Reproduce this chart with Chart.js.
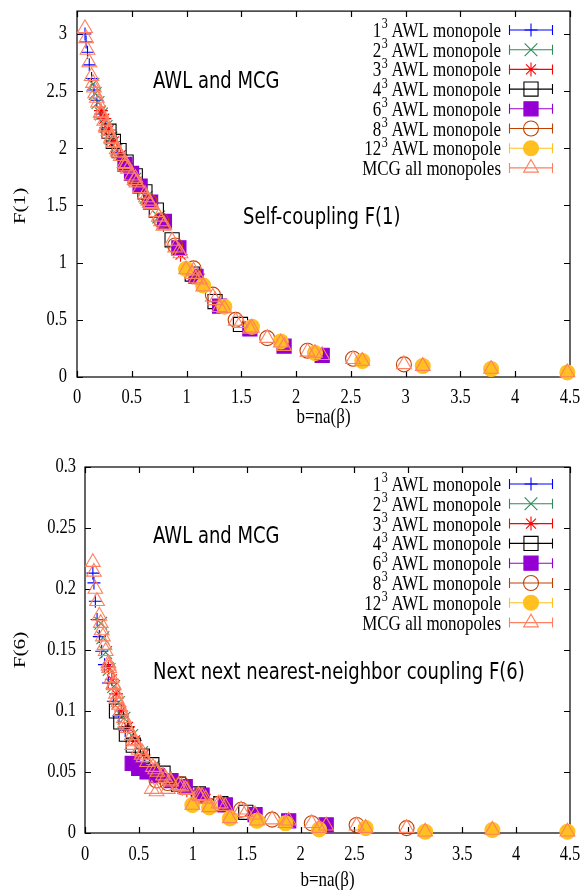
<!DOCTYPE html>
<html>
<head>
<meta charset="utf-8">
<script src="https://cdn.jsdelivr.net/npm/chart.js@4.4.1/dist/chart.umd.min.js"></script>
<style>
  html, body { margin: 0; padding: 0; background: #fff; }
  #wrap { position: relative; width: 586px; height: 890px; }
  canvas { position: absolute; left: 0; }
  #c1 { top: 0; width: 586px; height: 440px; }
  #c2 { top: 440px; width: 586px; height: 450px; }
</style>
</head>
<body>
<div id="wrap">
  <canvas id="c1" width="586" height="440"></canvas>
  <canvas id="c2" width="586" height="450"></canvas>
</div>
<script>
// b = n * a(beta) for each lattice size n^3
const b1 = [0.073, 0.083, 0.096, 0.112, 0.133, 0.155, 0.181, 0.217, 0.263, 0.315, 0.373];
const f1_n1 = [3.00, 2.93, 2.84, 2.73, 2.61, 2.51, 2.42, 2.30, 2.18, 2.07, 1.96];
const f6_n1 = [0.213, 0.205, 0.190, 0.175, 0.161, 0.149, 0.138, 0.123, 0.108, 0.096, 0.084];

const b2 = [0.146, 0.166, 0.192, 0.224, 0.266, 0.310, 0.362, 0.434, 0.526, 0.630, 0.746];
const f1_n2 = [2.56, 2.48, 2.40, 2.30, 2.19, 2.09, 1.99, 1.87, 1.73, 1.57, 1.40];
const f6_n2 = [0.172, 0.160, 0.148, 0.134, 0.120, 0.107, 0.094, 0.080, 0.066, 0.054, 0.045];

const b3 = [0.219, 0.249, 0.288, 0.336, 0.399, 0.465, 0.543, 0.651, 0.789, 0.945, 1.119];
const f1_n3 = [2.33, 2.26, 2.16, 2.06, 1.94, 1.83, 1.71, 1.55, 1.33, 1.07, 0.86];
const f6_n3 = [0.136, 0.126, 0.114, 0.100, 0.087, 0.076, 0.064, 0.053, 0.043, 0.035, 0.028];

const b4 = [0.292, 0.332, 0.384, 0.448, 0.532, 0.620, 0.724, 0.868, 1.052, 1.260, 1.492];
const f1_n4 = [2.15, 2.06, 1.98, 1.88, 1.76, 1.62, 1.46, 1.20, 0.90, 0.66, 0.46];
const f6_n4 = [0.100, 0.091, 0.081, 0.072, 0.063, 0.056, 0.049, 0.040, 0.032, 0.024, 0.017];

const b6 = [0.438, 0.498, 0.576, 0.672, 0.798, 0.930, 1.086, 1.302, 1.578, 1.890, 2.238];
const f1_n6 = [1.86, 1.78, 1.67, 1.53, 1.36, 1.13, 0.88, 0.62, 0.42, 0.27, 0.19];
const f6_n6 = [0.057, 0.053, 0.050, 0.047, 0.043, 0.038, 0.031, 0.023, 0.015, 0.010, 0.0066];

const b8 = [0.664, 0.768, 0.896, 1.064, 1.240, 1.448, 1.736, 2.104, 2.520, 2.984];
const f1_n8 = [1.53, 1.37, 1.15, 0.95, 0.72, 0.50, 0.34, 0.23, 0.16, 0.11];
const f6_n8 = [0.043, 0.041, 0.040, 0.031, 0.024, 0.019, 0.011, 0.008, 0.0066, 0.004];

const b12 = [0.996, 1.152, 1.344, 1.596, 1.860, 2.172, 2.604, 3.156, 3.780, 4.476];
const f1_n12 = [0.945, 0.80, 0.615, 0.44, 0.31, 0.21, 0.14, 0.096, 0.07, 0.04];
const f6_n12 = [0.023, 0.021, 0.012, 0.010, 0.008, 0.003, 0.004, 0.001, 0.0025, 0.001];

// MCG, all monopoles together
const bMcg = [
  0.073, 0.083, 0.096, 0.112, 0.133,
  0.146, 0.155, 0.166, 0.181, 0.192,
  0.217, 0.219, 0.224, 0.249, 0.263,
  0.266, 0.288, 0.292, 0.310, 0.315,
  0.332, 0.336, 0.362, 0.373, 0.384,
  0.399, 0.434, 0.438, 0.448, 0.465,
  0.498, 0.526, 0.532, 0.543, 0.576,
  0.620, 0.630, 0.651, 0.664, 0.672,
  0.724, 0.746, 0.768, 0.789, 0.798,
  0.868, 0.896, 0.930, 0.945, 0.996,
  1.052, 1.064, 1.086, 1.119, 1.152,
  1.240, 1.260, 1.302, 1.344, 1.448,
  1.492, 1.578, 1.596, 1.736, 1.860,
  1.890, 2.104, 2.172, 2.238, 2.520,
  2.604, 2.984, 3.156, 3.780, 4.476
];
const f1Mcg = [
  3.05, 2.96, 2.86, 2.75, 2.63,
  2.57, 2.53, 2.48, 2.44, 2.40,
  2.31, 2.31, 2.29, 2.24, 2.19,
  2.18, 2.15, 2.13, 2.09, 2.08,
  2.05, 2.05, 1.99, 1.97, 1.96,
  1.93, 1.87, 1.84, 1.86, 1.82,
  1.76, 1.72, 1.74, 1.70, 1.65,
  1.60, 1.57, 1.54, 1.52, 1.51,
  1.44, 1.40, 1.36, 1.32, 1.33,
  1.19, 1.13, 1.10, 1.08, 0.94,
  0.90, 0.93, 0.86, 0.85, 0.79,
  0.70, 0.67, 0.61, 0.60, 0.49,
  0.47, 0.42, 0.43, 0.34, 0.30,
  0.27, 0.22, 0.21, 0.19, 0.155,
  0.14, 0.11, 0.095, 0.07, 0.04
];
const f6Mcg = [
  0.222, 0.214, 0.200, 0.190, 0.178,
  0.172, 0.166, 0.161, 0.154, 0.149,
  0.139, 0.137, 0.135, 0.127, 0.122,
  0.121, 0.114, 0.110, 0.107, 0.105,
  0.100, 0.100, 0.094, 0.090, 0.088,
  0.086, 0.080, 0.072, 0.076, 0.075,
  0.068, 0.064, 0.066, 0.062, 0.058,
  0.036, 0.054, 0.052, 0.034, 0.050,
  0.047, 0.045, 0.036, 0.043, 0.042,
  0.039, 0.038, 0.036, 0.035, 0.023,
  0.031, 0.030, 0.030, 0.028, 0.021,
  0.024, 0.024, 0.022, 0.012, 0.019,
  0.017, 0.015, 0.010, 0.011, 0.008,
  0.010, 0.008, 0.004, 0.006, 0.006,
  0.004, 0.004, 0.001, 0.0025, 0.001
];

// legend entries: [base, superscript, rest]
const seriesLabels = [
  ['1', '3', ' AWL monopole'],
  ['2', '3', ' AWL monopole'],
  ['3', '3', ' AWL monopole'],
  ['4', '3', ' AWL monopole'],
  ['6', '3', ' AWL monopole'],
  ['8', '3', ' AWL monopole'],
  ['12', '3', ' AWL monopole'],
  ['MCG all monopoles', '', '']
];

const xTicks = [0, 0.5, 1, 1.5, 2, 2.5, 3, 3.5, 4, 4.5];
const xTickLabels = ['0', '0.5', '1', '1.5', '2', '2.5', '3', '3.5', '4', '4.5'];
const yTicksF1 = [0, 0.5, 1, 1.5, 2, 2.5, 3];
const yTickLabelsF1 = ['0', '0.5', '1', '1.5', '2', '2.5', '3'];
const yTicksF6 = [0, 0.05, 0.1, 0.15, 0.2, 0.25, 0.3];
const yTickLabelsF6 = ['0', '0.05', '0.1', '0.15', '0.2', '0.25', '0.3'];

// marker look per series
const markerStyles = [
  { color: '#0000ff', fill: false, pointStyle: 'cross', radius: 6.5 },
  { color: '#2e8b57', fill: false, pointStyle: 'crossRot', radius: 9 },
  { color: '#ff0000', fill: false, pointStyle: 'star', radius: 7 },
  { color: '#000000', fill: false, pointStyle: 'rect', radius: 10 },
  { color: '#9400d3', fill: true, pointStyle: 'rect', radius: 10 },
  { color: '#c04000', fill: false, pointStyle: 'circle', radius: 7.5 },
  { color: '#ffc020', fill: true, pointStyle: 'circle', radius: 7.5 },
  { color: '#ff8060', fill: false, pointStyle: 'triangle', radius: 8.5 }
];

const SERIF = '"Liberation Serif", "Times New Roman", serif';
const SANS = '"DejaVu Sans", sans-serif';
const STRETCH = 1.25; // text in this figure is drawn tall and narrow

function toPoints(xs, ys) {
  return xs.map((x, i) => ({ x: x, y: ys[i] }));
}

function buildDatasets(seriesY) {
  return seriesY.map((s, i) => {
    const m = markerStyles[i];
    return {
      label: seriesLabels[i].join(''),
      data: toPoints(s[0], s[1]),
      showLine: false,
      pointStyle: m.pointStyle,
      pointRadius: m.radius,
      pointBorderWidth: 1.1,
      pointBorderColor: m.color,
      pointBackgroundColor: m.fill ? m.color : 'rgba(0,0,0,0)',
      clip: false,
      order: seriesY.length - i
    };
  });
}

function drawText(ctx, text, x, y, font, align, angle) {
  ctx.save();
  ctx.translate(x, y);
  ctx.scale(1, STRETCH);
  if (angle) ctx.rotate(angle);
  ctx.font = font;
  ctx.textAlign = align;
  ctx.textBaseline = 'middle';
  ctx.fillStyle = '#000';
  ctx.fillText(text, 0, 0);
  ctx.restore();
}

function drawMarker(ctx, m, x, y) {
  ctx.save();
  ctx.strokeStyle = m.color;
  ctx.fillStyle = m.fill ? m.color : 'rgba(0,0,0,0)';
  ctx.lineWidth = 1.1;
  Chart.helpers.drawPoint(ctx, { pointStyle: m.pointStyle, radius: m.radius, rotation: 0, borderWidth: 1.1 }, x, y);
  ctx.restore();
}

// frame, inward ticks on all four sides, labels, notes and key
function framePlugin(cfg) {
  return {
    id: 'frame',
    beforeDatasetsDraw(chart) {
      const ctx = chart.ctx;
      const a = chart.chartArea;
      const xs = chart.scales.x, ys = chart.scales.y;
      ctx.save();
      ctx.strokeStyle = '#000';
      ctx.lineWidth = 1.2;
      ctx.strokeRect(a.left, a.top, a.right - a.left, a.bottom - a.top);
      ctx.beginPath();
      xTicks.forEach(v => {
        const px = Math.round(xs.getPixelForValue(v)) + 0.5;
        ctx.moveTo(px, a.bottom); ctx.lineTo(px, a.bottom - 6);
        ctx.moveTo(px, a.top); ctx.lineTo(px, a.top + 6);
      });
      cfg.yTicks.forEach(v => {
        const py = Math.round(ys.getPixelForValue(v)) + 0.5;
        ctx.moveTo(a.left, py); ctx.lineTo(a.left + 6, py);
        ctx.moveTo(a.right, py); ctx.lineTo(a.right - 6, py);
      });
      ctx.stroke();
      ctx.restore();
    },
    afterDraw(chart) {
      const ctx = chart.ctx;
      const a = chart.chartArea;
      const xs = chart.scales.x, ys = chart.scales.y;
      const tickFont = '16.5px ' + SERIF;

      xTicks.forEach((v, i) => {
        drawText(ctx, xTickLabels[i], xs.getPixelForValue(v), a.bottom + cfg.xLabelGap, tickFont, 'center');
      });
      cfg.yTicks.forEach((v, i) => {
        drawText(ctx, cfg.yTickLabels[i], a.left - cfg.yLabelGap, ys.getPixelForValue(v), tickFont, 'right');
      });

      drawText(ctx, 'b=na(β)', (a.left + a.right) / 2, a.bottom + cfg.xTitleGap, '17px ' + SERIF, 'center');
      drawText(ctx, cfg.yTitle, 21, (a.top + a.bottom) / 2 + cfg.yTitleShift, '17px ' + SERIF, 'center', -Math.PI / 2);

      cfg.notes.forEach(n => {
        drawText(ctx, n.text, n.x, n.y, '18px ' + SANS, 'left');
      });

      // key: right-aligned text, error-bar sample with marker
      const right = 501, mainFont = '17px ' + SERIF, supFont = '12px ' + SERIF;
      seriesLabels.forEach((lab, i) => {
        const y = cfg.keyTop + i * cfg.keyStep;
        ctx.save();
        ctx.font = mainFont;
        const w0 = ctx.measureText(lab[0]).width;
        const w2 = ctx.measureText(lab[2]).width;
        ctx.font = supFont;
        const w1 = lab[1] ? ctx.measureText(lab[1]).width : 0;
        ctx.restore();
        let x = right - (w0 + w1 + w2);
        const ty = y + 2;
        drawText(ctx, lab[0], x, ty, mainFont, 'left');
        if (lab[1]) drawText(ctx, lab[1], x + w0 + 0.5, ty - 7, supFont, 'left');
        if (lab[2]) drawText(ctx, lab[2], x + w0 + w1, ty, mainFont, 'left');

        const m = markerStyles[i];
        ctx.save();
        ctx.strokeStyle = m.color;
        ctx.lineWidth = 1.1;
        ctx.beginPath();
        ctx.moveTo(509, y + 0.5); ctx.lineTo(553, y + 0.5);
        ctx.moveTo(509.5, y - 4.5); ctx.lineTo(509.5, y + 5.5);
        ctx.moveTo(552.5, y - 4.5); ctx.lineTo(552.5, y + 5.5);
        ctx.stroke();
        ctx.restore();
        drawMarker(ctx, m, 531, y + 0.5);
      });
    }
  };
}

function makeChart(id, seriesY, yMax, padding, cfg) {
  const ctx = document.getElementById(id).getContext('2d');
  return new Chart(ctx, {
    type: 'scatter',
    data: { datasets: buildDatasets(seriesY) },
    options: {
      responsive: false,
      animation: false,
      events: [],
      layout: { padding: padding },
      plugins: { legend: { display: false }, tooltip: { enabled: false } },
      scales: {
        x: {
          type: 'linear', min: 0, max: 4.5,
          ticks: { display: false },
          grid: { display: false, drawTicks: false },
          border: { display: false }
        },
        y: {
          type: 'linear', min: 0, max: yMax,
          ticks: { display: false },
          grid: { display: false, drawTicks: false },
          border: { display: false }
        }
      }
    },
    plugins: [framePlugin(cfg)]
  });
}

// F(1), self-coupling
makeChart('c1', [
  [b1, f1_n1], [b2, f1_n2], [b3, f1_n3], [b4, f1_n4],
  [b6, f1_n6], [b8, f1_n8], [b12, f1_n12], [bMcg, f1Mcg]
], 3.2, { left: 77, right: 16, top: 10, bottom: 63 }, {
  yTicks: yTicksF1, yTickLabels: yTickLabelsF1, yTitle: 'F(1)', yTitleShift: 12,
  xLabelGap: 21, yLabelGap: 10, xTitleGap: 40,
  keyTop: 29.5, keyStep: 19.7,
  notes: [
    { text: 'AWL and MCG', x: 153, y: 82 },
    { text: 'Self-coupling F(1)', x: 243, y: 218 }
  ]
});

// F(6), next next nearest-neighbor coupling
makeChart('c2', [
  [b1, f6_n1], [b2, f6_n2], [b3, f6_n3], [b4, f6_n4],
  [b6, f6_n6], [b8, f6_n8], [b12, f6_n12], [bMcg, f6Mcg]
], 0.3, { left: 85, right: 16, top: 27, bottom: 57 }, {
  yTicks: yTicksF6, yTickLabels: yTickLabelsF6, yTitle: 'F(6)', yTitleShift: 0,
  xLabelGap: 22, yLabelGap: 9, xTitleGap: 47,
  keyTop: 43.5, keyStep: 19.8,
  notes: [
    { text: 'AWL and MCG', x: 153, y: 97.5 },
    { text: 'Next next nearest-neighbor coupling F(6)', x: 153, y: 233 }
  ]
});
</script>
</body>
</html>
